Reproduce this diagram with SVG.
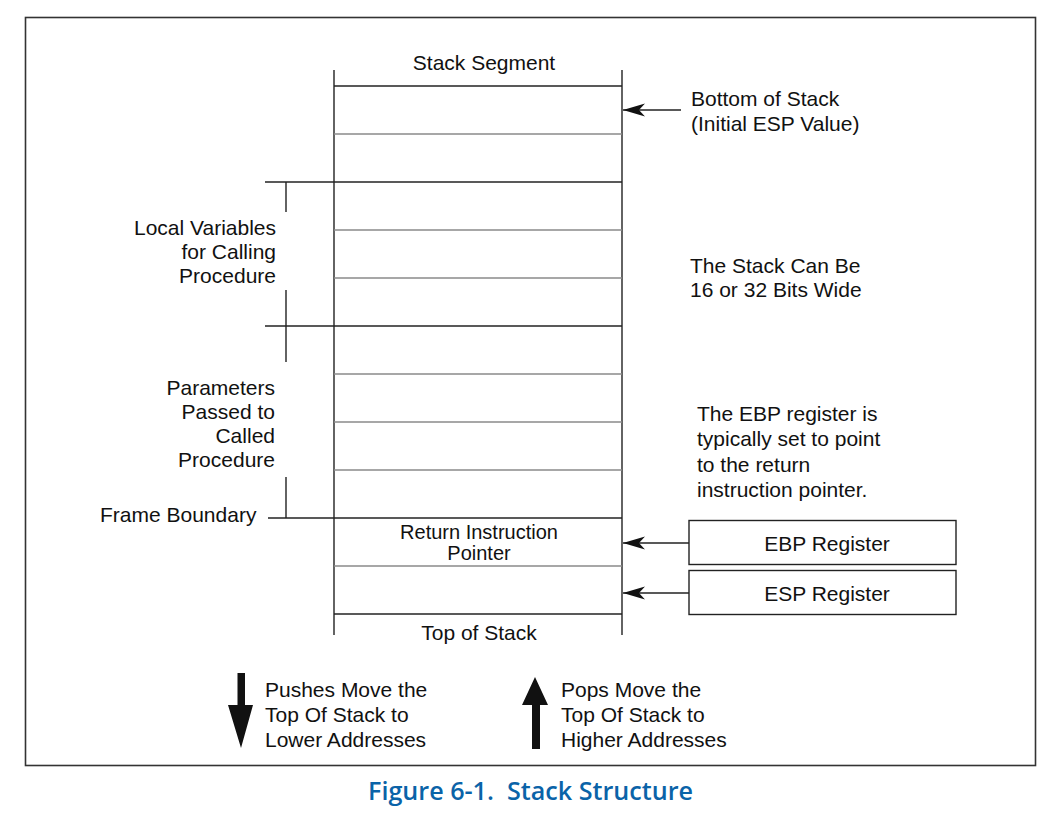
<svg xmlns="http://www.w3.org/2000/svg" width="1054" height="816" viewBox="0 0 1054 816">
<style>
.t{font-family:"Liberation Sans",Arial,sans-serif;font-size:21px;fill:#111}
.s{font-size:20px}
.e{text-anchor:end}
.m{text-anchor:middle}
.dk{stroke:#222;stroke-width:1.4;fill:none}
.gr{stroke:#8a8a8a;stroke-width:1.6;fill:none}
.box{fill:#fff;stroke:#222;stroke-width:1.4}
.cap{font-family:"Open Sans","DejaVu Sans",sans-serif;font-weight:600;font-size:26px;fill:#0a63a8}
</style>
<defs>
<marker id="ah" viewBox="0 0 24 14" refX="23" refY="7" markerWidth="24" markerHeight="14" markerUnits="userSpaceOnUse" orient="auto">
<path d="M23,7 L1,0.5 L7,7 L1,13.5 Z" fill="#111"/>
</marker>
</defs>
<rect x="25.5" y="17.5" width="1010" height="748" fill="#fff" stroke="#333" stroke-width="1.6"/>
<g id="stack">
<line class="dk" x1="334" y1="70" x2="334" y2="635"/>
<line class="dk" x1="622" y1="70" x2="622" y2="635"/>
<line class="dk" x1="334" y1="86" x2="622" y2="86"/>
<line class="gr" x1="334" y1="134" x2="622" y2="134"/>
<line class="dk" x1="265" y1="182" x2="622" y2="182"/>
<line class="gr" x1="334" y1="230" x2="622" y2="230"/>
<line class="gr" x1="334" y1="278" x2="622" y2="278"/>
<line class="dk" x1="265" y1="326" x2="622" y2="326"/>
<line class="gr" x1="334" y1="374" x2="622" y2="374"/>
<line class="gr" x1="334" y1="422" x2="622" y2="422"/>
<line class="gr" x1="334" y1="470" x2="622" y2="470"/>
<line class="dk" x1="268" y1="518" x2="622" y2="518"/>
<line class="gr" x1="334" y1="566" x2="622" y2="566"/>
<line class="dk" x1="334" y1="614" x2="622" y2="614"/>
<text class="t m" x="484" y="70">Stack Segment</text>
<text class="t s m" x="479" y="539">Return Instruction</text>
<text class="t s m" x="479" y="560">Pointer</text>
<text class="t m" x="479" y="640">Top of Stack</text>
</g>
<g id="brackets">
<line class="dk" x1="286" y1="182" x2="286" y2="212"/>
<line class="dk" x1="286" y1="290" x2="286" y2="362"/>
<line class="dk" x1="286" y1="477" x2="286" y2="518"/>
</g>
<g id="local-vars">
<text class="t e" x="276" y="235">Local Variables</text>
<text class="t e" x="276" y="259">for Calling</text>
<text class="t e" x="276" y="283">Procedure</text>
</g>
<g id="params">
<text class="t e" x="275" y="395">Parameters</text>
<text class="t e" x="275" y="419">Passed to</text>
<text class="t e" x="275" y="443">Called</text>
<text class="t e" x="275" y="467">Procedure</text>
</g>
<g id="frame-boundary">
<text class="t" x="100" y="522">Frame Boundary</text>
</g>
<g id="bottom-of-stack">
<text class="t" x="691" y="106">Bottom of Stack</text>
<text class="t" x="691" y="131">(Initial ESP Value)</text>
</g>
<g id="width-note">
<text class="t" x="690" y="273">The Stack Can Be</text>
<text class="t" x="690" y="297">16 or 32 Bits Wide</text>
</g>
<g id="ebp-note">
<text class="t" x="697" y="421">The EBP register is</text>
<text class="t" x="697" y="446">typically set to point</text>
<text class="t" x="697" y="472">to the return</text>
<text class="t" x="697" y="497">instruction pointer.</text>
</g>
<g id="ebp-register">
<rect class="box" x="689" y="520.5" width="267" height="44"/>
<text class="t m" x="827" y="551">EBP Register</text>
</g>
<g id="esp-register">
<rect class="box" x="689" y="570.5" width="267" height="44"/>
<text class="t m" x="827" y="601">ESP Register</text>
</g>
<g id="connectors">
<line class="dk" x1="681" y1="110" x2="623" y2="110" marker-end="url(#ah)"/>
<line class="dk" x1="689" y1="543" x2="623" y2="543" marker-end="url(#ah)"/>
<line class="dk" x1="689" y1="593" x2="623" y2="593" marker-end="url(#ah)"/>
</g>
<g id="legend">
<path d="M237.5,673 H245 V705 H253 L241,748 L228,705 H237.5 Z" fill="#111"/>
<path d="M532,749 H540 V705 H548 L535,677 L522,705 H532 Z" fill="#111"/>
<text class="t" x="265" y="697">Pushes Move the</text>
<text class="t" x="265" y="722">Top Of Stack to</text>
<text class="t" x="265" y="747">Lower Addresses</text>
<text class="t" x="561" y="697">Pops Move the</text>
<text class="t" x="561" y="722">Top Of Stack to</text>
<text class="t" x="561" y="747">Higher Addresses</text>
</g>
<text class="cap" x="368" y="800" textLength="325" lengthAdjust="spacingAndGlyphs">Figure 6-1.&#160; Stack Structure</text>
</svg>
